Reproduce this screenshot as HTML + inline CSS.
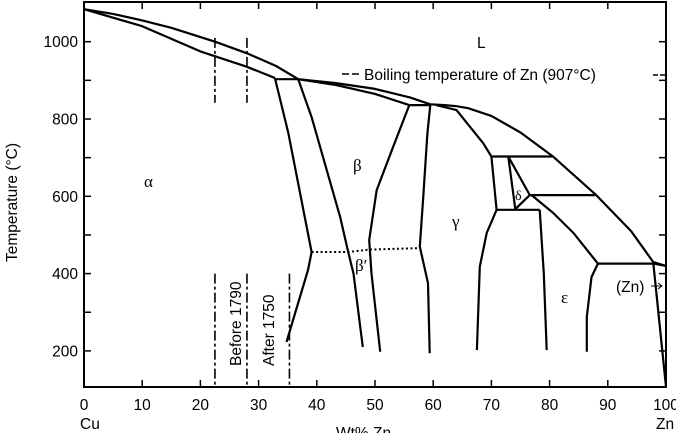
<!DOCTYPE html>
<html><head><meta charset="utf-8"><style>
html,body{margin:0;padding:0;background:#fff;}
svg{display:block;font-family:"Liberation Sans",sans-serif;}
</style></head><body>
<svg id="chart" width="676" height="433" viewBox="0 0 676 433"></svg>
<script>
const xTicks=[0,10,20,30,40,50,60,70,80,90,100];
const yTicks=[1000,800,600,400,200];
const yMinor=[900,700,500,300];
// phase boundary curves [wt% Zn, temperature °C]
const liquidus=[[0,1084],[5,1072],[10,1055],[15,1036],[22.5,1000],[28,970],[33,937],[36.8,903],[43.3,893],[50,878],[56,856],[59.5,838],[62,836],[64,833],[66,828],[70,808],[75,765],[80.5,704],[88,603],[94,510],[97.8,430],[100,420]];
const alphaSolidus=[[0,1084],[10,1040],[20,975],[28,935],[32.8,906]];
const peritectic1=[[32.8,903],[36.8,903]];
const betaSolidus=[[36.8,903],[43.3,888],[50,865],[55.9,836]];
const peritectic2=[[55.9,836],[59.5,836]];
const alphaSolvus=[[32.8,906],[35.1,764],[39.1,456],[38.5,410],[34.8,223]];
const betaLeft=[[36.8,903],[39.1,805],[44,547],[45.4,456],[46.3,400],[47.9,210]];
const betaRight=[[55.9,836],[53.1,727],[50.3,616],[49.0,487],[49.4,400],[50.9,198]];
const gammaLeft=[[59.5,836],[59,763],[58.3,600],[57.7,470],[59.1,375],[59.4,194]];
const gammaTop=[[60.5,836],[64,823],[68.6,737],[70,703],[70.9,565]];
const peritectic3=[[70,703],[80.5,703]];
const eutectoid=[[70.9,565],[78.3,565]];
const delta=[[72.9,703],[74.1,567],[76.6,603],[72.9,703]];
const peritectic4=[[76.6,603],[87.8,603]];
const epsilonTop=[[76.9,603],[80.6,557],[84.1,505],[88.3,426]];
const peritectic5=[[88.3,426],[97.8,426],[100,420]];
const gammaRight=[[70.9,565],[69.2,505],[68,418],[67.5,202]];
const epsilonLeft=[[78.3,565],[79,400],[79.5,202]];
const epsilonRight=[[88.3,426],[87.2,391],[86.4,288],[86.4,198]];
const znSolvus=[[97.8,430],[100,107]];
const orderDotted=[[39.1,456],[45.4,456],[49,462],[57.7,466]];
const compDashes=[[22.5,1010,842],[28,1010,842],[22.5,400,110],[28,400,110],[35.3,400,110]];

const X=v=>84+v*5.82;
const Y=t=>41.7+(1000-t)*0.3865;
const svg=document.getElementById('chart');
const NS='http://www.w3.org/2000/svg';
function mk(tag,attrs,parent){const e=document.createElementNS(NS,tag);for(const k in attrs)e.setAttribute(k,attrs[k]);(parent||svg).appendChild(e);return e;}

const frame=mk('rect',{x:84,y:2,width:582,height:385,fill:'none',stroke:'#000','stroke-width':2});



xTicks.forEach(v=>{
  const t=mk('line',{x1:X(v),x2:X(v),y1:387,y2:380,stroke:'#000','stroke-width':1.5});
  
  
  const t2=mk('line',{x1:X(v),x2:X(v),y1:2,y2:9,stroke:'#000','stroke-width':1.5});
  
  
  const l=mk('text',{x:X(v),y:410,'text-anchor':'middle','font-size':15.5});
  l.textContent=v;
  
  
});
yTicks.concat(yMinor).forEach(v=>{
  const t=mk('line',{x1:84,x2:91,y1:Y(v),y2:Y(v),stroke:'#000','stroke-width':1.5});
  
  
  const t2=mk('line',{x1:659,x2:666,y1:Y(v),y2:Y(v),stroke:'#000','stroke-width':1.5});
  
  
});
yTicks.forEach(v=>{
  const l=mk('text',{x:78,y:Y(v)+5.5,'text-anchor':'end','font-size':15.5});
  l.textContent=v;
  
  
});

function curve(pts,name,extra){
  const d=pts.map((p,i)=>(i?'L':'M')+X(p[0]).toFixed(1)+' '+Y(p[1]).toFixed(1)).join(' ');
  const p=mk('path',Object.assign({d:d,fill:'none',stroke:'#000','stroke-width':2.2,'stroke-linejoin':'round'},extra||{}));
  
  
}
curve(liquidus,'liquidus-line');
curve(alphaSolidus,'alpha-solidus');
curve(peritectic1,'peritectic-903');
curve(betaSolidus,'beta-solidus');
curve(peritectic2,'peritectic-835');
curve(alphaSolvus,'alpha-solvus');
curve(betaLeft,'beta-left-boundary');
curve(betaRight,'beta-right-boundary');
curve(gammaLeft,'gamma-left-boundary');
curve(gammaTop,'gamma-top-boundary');
curve(peritectic3,'peritectic-700');
curve(eutectoid,'eutectoid-560');
curve(delta,'delta-phase-field');
curve(peritectic4,'peritectic-600');
curve(epsilonTop,'epsilon-top-boundary');
curve(peritectic5,'peritectic-425');
curve(gammaRight,'gamma-right-boundary');
curve(epsilonLeft,'epsilon-left-boundary');
curve(epsilonRight,'epsilon-right-boundary');
curve(znSolvus,'zn-solvus');
curve(orderDotted,'beta-order-transition',{'stroke-dasharray':'2 2.5','stroke-width':2});
compDashes.forEach(c=>{
  const l=mk('line',{x1:X(c[0]),x2:X(c[0]),y1:Y(c[1]),y2:Y(c[2]),stroke:'#000','stroke-width':1.6,'stroke-dasharray':'10 3 3 3'});
  
  
});

function txt(x,y,s,name,attrs){const t=mk('text',Object.assign({x:x,y:y,'font-size':15.5},attrs||{}));t.textContent=s;return t;}
txt(477,48,'L','label-liquid');
txt(144,187,'α','label-alpha',{'font-family':'Liberation Serif, serif','font-size':17});
txt(353,171,'β','label-beta',{'font-family':'Liberation Serif, serif','font-size':17});
txt(355,271,'β′','label-beta-prime',{'font-family':'Liberation Serif, serif','font-size':17});
txt(452,227,'γ','label-gamma',{'font-family':'Liberation Serif, serif','font-size':17});
txt(515,200,'δ','label-delta',{'font-family':'Liberation Serif, serif','font-size':14});
txt(561,303,'ε','label-epsilon',{'font-family':'Liberation Serif, serif','font-size':17});
txt(616,292,'(Zn)','label-zn');
const ar=mk('path',{d:'M651 286 L661 286 M658 283 L662 286 L658 289',stroke:'#000',fill:'none','stroke-width':1});


const bd=mk('line',{x1:342,x2:361,y1:74,y2:74,stroke:'#000','stroke-width':1.6,'stroke-dasharray':'7 3'});


const bd2=mk('line',{x1:653,x2:666,y1:75,y2:75,stroke:'#000','stroke-width':1.6,'stroke-dasharray':'5 2'});


txt(364,80,'Boiling temperature of Zn (907°C)','boiling-annotation');
txt(0,0,'Before 1790','before-1790-label',{transform:'translate(241,366) rotate(-90)'});
txt(0,0,'After 1750','after-1750-label',{transform:'translate(274,366) rotate(-90)'});
txt(0,0,'Temperature (°C)','y-axis-title',{transform:'translate(17,262) rotate(-90)'});
txt(80,429,'Cu','label-cu');
txt(336,438,'Wt% Zn','x-axis-title');
txt(656,429,'Zn','label-zn-axis');
</script>
</body></html>
